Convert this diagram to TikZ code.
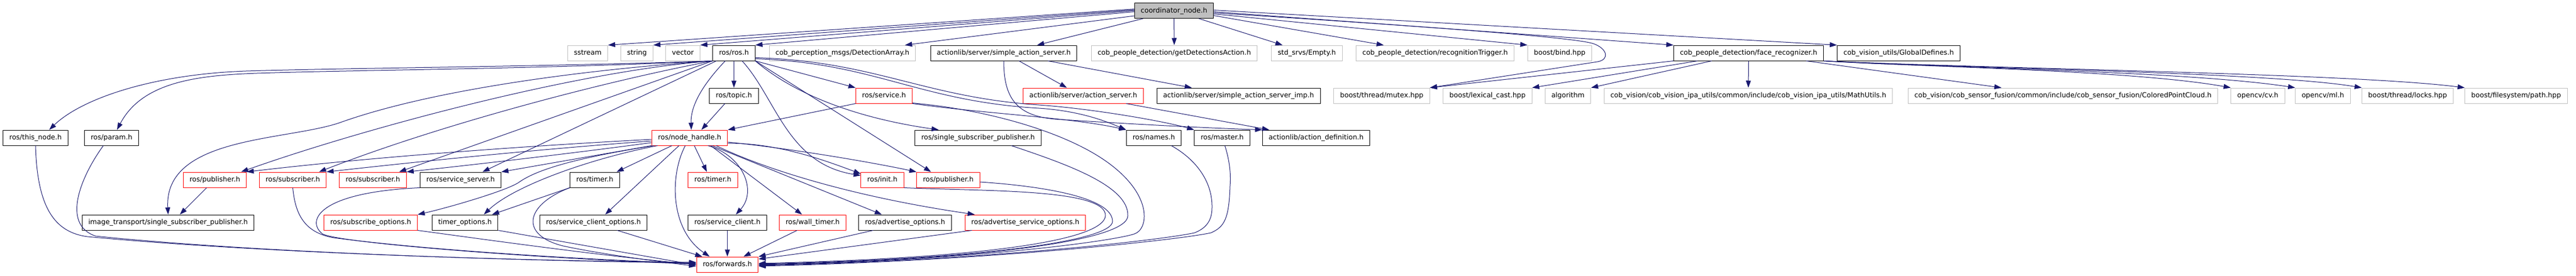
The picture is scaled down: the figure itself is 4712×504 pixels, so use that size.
\documentclass[tikz,border=0pt]{standalone}
\usepackage{fontspec}
\usetikzlibrary{arrows.meta}
\newfontfamily\hfont{DejaVu Sans}
\definecolor{incblue}{HTML}{191970}
\definecolor{sysgray}{HTML}{BFBFBF}
\begin{document}
\begin{tikzpicture}[x=1pt, y=-1pt,
    hdr/.style={draw=black, line width=1pt, minimum height=28pt, inner xsep=11.5pt, inner ysep=0pt,
      text height=9.6pt, text depth=2.6pt, font={\hfont\fontsize{12.55pt}{15pt}\selectfont}},
    redhdr/.style={hdr, draw=red},
    syshdr/.style={hdr, draw=sysgray},
    mainhdr/.style={hdr, fill=sysgray},
    inc/.style={incblue, line width=1pt, -{Triangle[length=13pt,width=9pt]}}]
\useasboundingbox (0,0) rectangle (4712,504);

\node[mainhdr] (cnode) at (2147.5,19.5) {coordinator\_node.h};

\node[syshdr] (sstream) at (1075,97) {sstream};
\node[syshdr] (string) at (1165,97) {string};
\node[syshdr] (vector) at (1249,97) {vector};
\node[hdr] (ros) at (1342.5,97) {ros/ros.h};
\node[syshdr] (detarr) at (1541,97) {cob\_perception\_msgs/DetectionArray.h};
\node[hdr] (sas) at (1836,97) {actionlib/server/simple\_action\_server.h};
\node[syshdr] (getdet) at (2148,97) {cob\_people\_detection/getDetectionsAction.h};
\node[syshdr] (empty) at (2390.5,97) {std\_srvs/Empty.h};
\node[syshdr] (trigger) at (2625,97) {cob\_people\_detection/recognitionTrigger.h};
\node[syshdr] (bind) at (2853,97) {boost/bind.hpp};
\node[hdr] (facerec) at (3198.5,97) {cob\_people\_detection/face\_recognizer.h};
\node[hdr] (globdef) at (3473,97) {cob\_vision\_utils/GlobalDefines.h};

\node[hdr] (topic) at (1342.5,175) {ros/topic.h};
\node[redhdr] (service) at (1617,175) {ros/service.h};
\node[redhdr] (actsrv) at (1981.5,175) {actionlib/server/action\_server.h};
\node[hdr] (sasimp) at (2265.5,175) {actionlib/server/simple\_action\_server\_imp.h};
\node[syshdr] (mutex) at (2527.5,175) {boost/thread/mutex.hpp};
\node[syshdr] (lexcast) at (2721,175) {boost/lexical\_cast.hpp};
\node[syshdr] (algo) at (2868,175) {algorithm};
\node[syshdr] (mathutils) at (3198,175) {cob\_vision/cob\_vision\_ipa\_utils/common/include/cob\_vision\_ipa\_utils/MathUtils.h};
\node[syshdr] (cloud) at (3773.5,175) {cob\_vision/cob\_sensor\_fusion/common/include/cob\_sensor\_fusion/ColoredPointCloud.h};
\node[syshdr] (cv) at (4130,175) {opencv/cv.h};
\node[syshdr] (ml) at (4249,175) {opencv/ml.h};
\node[syshdr] (locks) at (4404,175) {boost/thread/locks.hpp};
\node[syshdr] (fspath) at (4602.5,175) {boost/filesystem/path.hpp};

\node[hdr] (thisnode) at (65,252) {ros/this\_node.h};
\node[hdr] (param) at (204,252) {ros/param.h};
\node[redhdr] (nodehandle) at (1261.5,252) {ros/node\_handle.h};
\node[hdr] (ssp) at (1789,252) {ros/single\_subscriber\_publisher.h};
\node[hdr] (names) at (2110.5,252) {ros/names.h};
\node[hdr] (master) at (2235.5,252) {ros/master.h};
\node[hdr] (actdef) at (2407.5,252) {actionlib/action\_definition.h};

\node[redhdr] (pub1) at (393,329) {ros/publisher.h};
\node[redhdr] (sub1) at (535.5,329) {ros/subscriber.h};
\node[redhdr] (sub2) at (682,329) {ros/subscriber.h};
\node[hdr] (srvserver) at (842.5,329) {ros/service\_server.h};
\node[hdr] (timerb) at (1088,329) {ros/timer.h};
\node[redhdr] (timerr) at (1304,329) {ros/timer.h};
\node[redhdr] (init) at (1614,329) {ros/init.h};
\node[redhdr] (pub2) at (1734.5,329) {ros/publisher.h};

\node[hdr] (itssp) at (307.5,407) {image\_transport/single\_subscriber\_publisher.h};
\node[redhdr] (subopts) at (678,407) {ros/subscribe\_options.h};
\node[hdr] (timeropts) at (850.5,407) {timer\_options.h};
\node[hdr] (sclientopts) at (1085.5,407) {ros/service\_client\_options.h};
\node[hdr] (sclient) at (1330.5,407) {ros/service\_client.h};
\node[redhdr] (walltimer) at (1486.5,407) {ros/wall\_timer.h};
\node[hdr] (advopts) at (1655.5,407) {ros/advertise\_options.h};
\node[redhdr] (advsrvopts) at (1875.5,407) {ros/advertise\_service\_options.h};

\node[redhdr] (forwards) at (1330.5,484) {ros/forwards.h};

% coordinator_node.h
\draw[inc] ([yshift=3]cnode.west) -- (sstream.north east);
\draw[inc] ([yshift=1.5]cnode.west) -- (string.north east);
\draw[inc] (cnode.west) -- (vector.north east);
\draw[inc] ([yshift=-2]cnode.west) -- (ros.north east);
\draw[inc] ([yshift=-9.5]cnode.west) -- ([xshift=-20]detarr.north east);
\draw[inc] ([xshift=-56.5]cnode.south) -- ([xshift=61]sas.north);
\draw[inc] (cnode) -- (getdet);
\draw[inc] ([xshift=45.5]cnode.south) -- ([xshift=-44.5]empty.north);
\draw[inc] ([yshift=-9]cnode.east) -- ([xshift=-94]trigger.north);
\draw[inc] ([yshift=-6]cnode.east) -- (bind.north west);
\draw[inc] ([yshift=-4]cnode.east) .. controls (2600,48) and (2880,68) .. (2915,80)
  .. controls (2940,89) and (2945,109) .. (2922,113) -- (mutex.north east);
\draw[inc] ([yshift=-2]cnode.east) -- (facerec.north west);
\draw[inc] ([yshift=1]cnode.east) -- (globdef.north west);

% actionlib
\draw[inc] ([xshift=28]sas.south) -- ([xshift=-30]actsrv.north);
\draw[inc] ([xshift=81]sas.south) -- ([xshift=-85.5]sasimp.north);
\draw[inc] (sas.south) .. controls (1836,180) and (1860,212) .. (1930,218)
  .. controls (2050,226) and (2200,234) .. (actdef.north west);
\draw[inc] ([xshift=78.5]actsrv.south) -- ([xshift=13]actdef.north west);

% ros/ros.h
\draw[inc] (ros.south west) .. controls (1000,122) and (650,124) .. (450,130)
  .. controls (280,136) and (150,180) .. ([xshift=25]thisnode.north);
\draw[inc] (ros.south west) .. controls (1000,126) and (650,128) .. (470,134)
  .. controls (360,138) and (260,150) .. ([xshift=10]param.north);
\draw[inc] (ros.south west) .. controls (1100,125) and (800,160) .. (620,225)
  .. controls (520,258) and (300,250) .. (itssp.north);
\draw[inc] (ros.south west) .. controls (1050,130) and (650,240) .. ([xshift=48]pub1.north);
\draw[inc] (ros.south west) .. controls (1100,150) and (800,230) .. ([xshift=48]sub1.north);
\draw[inc] (ros.south west) -- ([xshift=48]sub2.north);
\draw[inc] ([xshift=7]ros.south west) -- ([xshift=40]srvserver.north);
\draw[inc] (ros) -- (topic);
\draw[inc] ([xshift=-16]ros.south) .. controls (1290,150) and (1263,190) .. ([xshift=3]nodehandle.north);
\draw[inc] (ros.south east) -- (service.north west);
\draw[inc] (ros.south east) .. controls (1450,170) and (1560,215) .. ([xshift=-72]ssp.north);
\draw[inc] (ros.south east) -- ([xshift=-31.5]pub2.north);
\draw[inc] ([xshift=15]ros.south) .. controls (1420,180) and (1440,300) .. ([yshift=8]init.west);
\draw[inc] ([yshift=4]ros.south east) .. controls (1600,115) and (1680,185) .. (1900,198)
  .. controls (1980,203) and (2030,225) .. (names.north west);
\draw[inc] ([yshift=6]ros.south east) .. controls (1600,112) and (1690,178) .. (1900,192)
  .. controls (2000,199) and (2130,222) .. (master.north west);

\draw[inc] ([xshift=-16.5]topic.south) -- ([xshift=21.5]nodehandle.north);
\draw[inc] (service.south west) -- (nodehandle.north east);
\draw[inc] (service.south east) .. controls (1800,208) and (1960,215) .. (names.north west);

% ros/node_handle.h
\draw[inc] ([yshift=-3]nodehandle.west) .. controls (1000,265) and (700,285) .. (pub1.north east);
\draw[inc] ([yshift=-6]nodehandle.west) .. controls (1000,272) and (800,292) .. (sub1.north east);
\draw[inc] ([yshift=-9]nodehandle.west) .. controls (1050,280) and (880,300) .. (sub2.north east);
\draw[inc] (nodehandle.south west) -- (srvserver.north east);
\draw[inc] ([xshift=4]nodehandle.south west) .. controls (1080,285) and (990,305) .. (950,333)
  .. controls (930,348) and (820,380) .. (subopts.north east);
\draw[inc] ([xshift=11]nodehandle.south west) .. controls (1080,290) and (940,340) .. ([xshift=34.5]timeropts.north);
\draw[inc] ([xshift=-32.5]nodehandle.south) -- ([xshift=-6]timerb.north east);
\draw[inc] ([xshift=-19.5]nodehandle.south) -- ([xshift=21.5]sclientopts.north);
\draw[inc] ([xshift=-8]nodehandle.south) .. controls (1225,320) and (1225,420) .. ([xshift=-32.5]forwards.north);
\draw[inc] ([xshift=8.5]nodehandle.south) -- ([xshift=-11]timerr.north);
\draw[inc] ([xshift=33.5]nodehandle.south) .. controls (1360,285) and (1385,350) .. ([xshift=15.5]sclient.north);
\draw[inc] ([xshift=38.5]nodehandle.south) -- ([xshift=-19.5]walltimer.north);
\draw[inc] ([xshift=41]nodehandle.south) -- ([xshift=-42.5]advopts.north);
\draw[inc] ([xshift=48.5]nodehandle.south) .. controls (1400,310) and (1560,360) .. ([xshift=-92.5]advsrvopts.north);
\draw[inc] ([yshift=-10]nodehandle.east) .. controls (1420,262) and (1500,290) .. ([yshift=11]init.west);
\draw[inc] ([yshift=-8]nodehandle.east) .. controls (1450,272) and (1600,298) .. (pub2.north west);

\draw[inc] ([xshift=-15]pub1.south) -- ([xshift=21.5]itssp.north);
\draw[inc] (timerb.south west) -- ([xshift=49.5]timeropts.north);

% into ros/forwards.h
\draw[inc] (thisnode.south) .. controls (68,380) and (100,425) .. (160,433)
  .. controls (500,465) and (1000,478) .. ([yshift=4]forwards.west);
\draw[inc] ([xshift=-15]param.south) .. controls (150,320) and (110,410) .. (175,432)
  .. controls (500,465) and (1000,478) .. ([yshift=3]forwards.west);
\draw[inc] (sub1.south) .. controls (540,390) and (555,425) .. (610,435)
  .. controls (800,460) and (1100,476) .. ([yshift=2]forwards.west);
\draw[inc] (srvserver.south west) .. controls (580,352) and (560,405) .. (590,428)
  .. controls (620,445) and (1000,474) .. ([yshift=1]forwards.west);
\draw[inc] (subopts.south east) .. controls (900,440) and (1100,468) .. (forwards.west);
\draw[inc] (timeropts.south east) -- ([yshift=-1]forwards.west);
\draw[inc] (timerb.south west) .. controls (960,375) and (950,430) .. (1030,450)
  .. controls (1100,465) and (1200,478) .. ([yshift=-3]forwards.west);
\draw[inc] ([xshift=43.5]sclientopts.south) -- ([xshift=11]forwards.north west);
\draw[inc] (sclient) -- (forwards);
\draw[inc] ([xshift=-28.5]walltimer.south) -- ([xshift=29.5]forwards.north);
\draw[inc] ([xshift=-58.5]advopts.south) -- (forwards.north east);
\draw[inc] ([xshift=13]advsrvopts.south west) -- ([yshift=10]forwards.east);
\draw[inc] (init.south east) .. controls (1800,350) and (2025,345) .. (2022,395)
  .. controls (2018,440) and (1800,472) .. ([yshift=2]forwards.east);
\draw[inc] ([yshift=-4]pub2.east) .. controls (1900,340) and (2035,360) .. (2035,405)
  .. controls (2035,440) and (1800,474) .. ([yshift=1]forwards.east);
\draw[inc] ([xshift=61]ssp.south) .. controls (1950,300) and (2065,340) .. (2063,395)
  .. controls (2062,440) and (1800,475) .. (forwards.east);
\draw[inc] ([yshift=1]service.south east) .. controls (1800,200) and (1950,240) .. (2030,300)
  .. controls (2110,360) and (2100,420) .. (2075,428)
  .. controls (2040,440) and (1800,475) .. ([yshift=-1]forwards.east);
\draw[inc] ([xshift=32]names.south) .. controls (2185,290) and (2218,330) .. (2217,380)
  .. controls (2217,405) and (2205,418) .. (2185,426)
  .. controls (2120,440) and (1800,476) .. ([yshift=-2]forwards.east);
\draw[inc] ([xshift=5]master.south) .. controls (2248,290) and (2252,315) .. (2250,340)
  .. controls (2248,400) and (2240,415) .. (2215,426)
  .. controls (2150,440) and (1800,477) .. ([yshift=-3]forwards.east);

% cob_people_detection/face_recognizer.h
\draw[inc] (facerec.south west) -- (mutex.north east);
\draw[inc] ([xshift=-93.5]facerec.south) -- (lexcast.north east);
\draw[inc] ([xshift=-67.5]facerec.south) -- (algo.north east);
\draw[inc] (facerec.south) -- (mathutils.north);
\draw[inc] ([xshift=105.5]facerec.south) -- ([xshift=-112.5]cloud.north);
\draw[inc] (facerec.south east) .. controls (3500,122) and (3900,128) .. (cv.north west);
\draw[inc] (facerec.south east) .. controls (3550,124) and (4000,130) .. (ml.north west);
\draw[inc] (facerec.south east) .. controls (3600,125) and (4150,132) .. (locks.north west);
\draw[inc] (facerec.south east) .. controls (3650,126) and (4300,134) .. (fspath.north west);
\end{tikzpicture}
\end{document}
